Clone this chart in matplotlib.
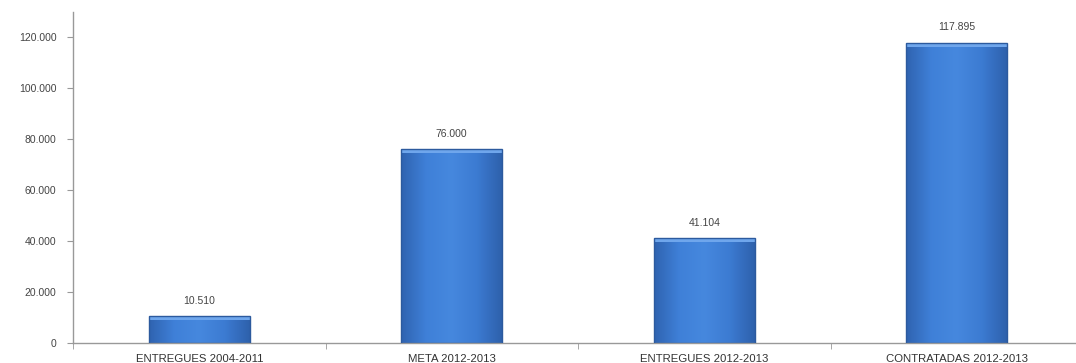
import matplotlib
matplotlib.use("Agg")
import matplotlib.pyplot as plt
from matplotlib.ticker import FuncFormatter, FixedLocator
from matplotlib.colors import LinearSegmentedColormap
import numpy as np

categories = ["ENTREGUES 2004-2011", "META 2012-2013", "ENTREGUES 2012-2013", "CONTRATADAS 2012-2013"]
values = [10510, 76000, 41104, 117895]
value_labels = ["10.510", "76.000", "41.104", "117.895"]
yticks = [0, 20000, 40000, 60000, 80000, 100000, 120000]

plt.rcParams['font.family'] = ['Liberation Sans', 'DejaVu Sans']

fig = plt.figure(figsize=(10.76, 3.63), dpi=100)
ax = fig.add_axes([73 / 1076, 20 / 363, 1010 / 1076, 331 / 363])

x = np.arange(len(categories))
bw = 0.4
bars = ax.bar(x, values, width=bw, color="none", edgecolor="#2C5A9E", linewidth=1.0, zorder=3)

# horizontal gradient (darker edges, lighter middle-left) inside each bar
hcols = LinearSegmentedColormap.from_list("h", ["#2F63B0", "#3F80D8", "#4688DE", "#3C7BD2", "#2E61AC"])
grad = np.linspace(0, 1, 256).reshape(1, -1)
for b in bars:
    x0, w, h = b.get_x(), b.get_width(), b.get_height()
    im = ax.imshow(grad, cmap=hcols, extent=(x0, x0 + w, 0, h), aspect="auto", zorder=2)
    im.set_clip_path(b)
    # lighter top cap
    ax.add_patch(plt.Rectangle((x0, h - 1500), w, 1500, color="#6FA6EC", zorder=2.5, lw=0))

for xi, v, lab in zip(x, values, value_labels):
    ax.text(xi, v + 4200, lab, ha="center", va="bottom", fontsize=7.5, color="#444444")

ax.set_xlim(-0.5, len(categories) - 0.5)
ax.set_ylim(0, 130000)
ax.set_yticks(yticks)
ax.yaxis.set_major_formatter(FuncFormatter(lambda v, p: "0" if v == 0 else f"{int(v):,}".replace(",", ".")))
ax.set_xticks(x)
ax.set_xticklabels(categories, fontsize=8.2, color="#333333")
ax.xaxis.set_minor_locator(FixedLocator(np.arange(-0.5, len(categories), 1.0)))
ax.tick_params(axis="x", which="major", length=0, pad=8)
ax.tick_params(axis="x", which="minor", length=4, color="#999999", direction="out")
ax.tick_params(axis="y", length=4, color="#999999", labelsize=7.5, labelcolor="#444444", pad=8)

for s in ["top", "right"]:
    ax.spines[s].set_visible(False)
for s in ["left", "bottom"]:
    ax.spines[s].set_color("#999999")
    ax.spines[s].set_linewidth(1.0)

fig.savefig("out.png", dpi=100)
